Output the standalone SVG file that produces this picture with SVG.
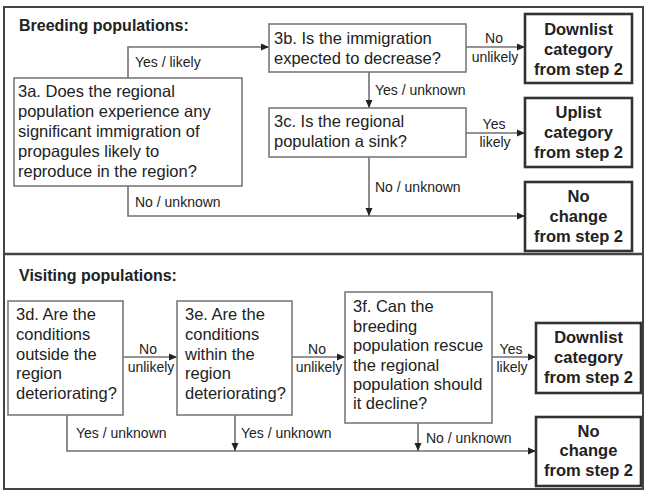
<svg xmlns="http://www.w3.org/2000/svg" width="651" height="492" viewBox="0 0 651 492">
<style>
text{font-family:"Liberation Sans",Arial,sans-serif;fill:#222}
.q{font-size:16.5px}
.r{font-size:16.5px;font-weight:bold;text-anchor:middle}
.h{font-size:16px;font-weight:bold}
.l{font-size:14px}
.lc{font-size:14px;text-anchor:middle}
.qb{fill:#fff;stroke:#7a7a7a;stroke-width:1.6}
.rb{fill:#fff;stroke:#333;stroke-width:2.6}
.c{fill:none;stroke:#707070;stroke-width:1.6}
.ca{fill:none;stroke:#707070;stroke-width:1.6;marker-end:url(#ah)}
</style>
<defs>
<marker id="ah" markerUnits="userSpaceOnUse" markerWidth="8" markerHeight="8" viewBox="0 0 8 8" refX="8" refY="4" orient="auto">
<path d="M0,0.5 L8,4 L0,7.5 Z" fill="#222"/>
</marker>
</defs>
<rect x="0" y="0" width="651" height="492" fill="#fff"/>
<g id="frame">
<rect x="4" y="7" width="639" height="482" fill="none" stroke="#444" stroke-width="2"/>
<line x1="4" y1="254" x2="643" y2="254" stroke="#444" stroke-width="2.4"/>
</g>
<text class="h" x="19" y="31">Breeding populations:</text>
<text class="h" x="19" y="281">Visiting populations:</text>
<g id="connectors">
<polyline class="ca" points="128,78 128,47 269,47"/>
<polyline class="ca" points="128,186 128,216 525,216"/>
<line class="ca" x1="466" y1="47" x2="525" y2="47"/>
<line class="ca" x1="369" y1="72" x2="369" y2="108"/>
<line class="ca" x1="466" y1="133" x2="525" y2="133"/>
<line class="ca" x1="369" y1="157" x2="369" y2="216"/>
<line class="ca" x1="123" y1="357" x2="177" y2="357"/>
<line class="ca" x1="292" y1="357" x2="345" y2="357"/>
<line class="ca" x1="492" y1="357" x2="536" y2="357"/>
<polyline class="ca" points="67,415 67,451 536,451"/>
<line class="ca" x1="235" y1="415" x2="235" y2="451"/>
<line class="ca" x1="418" y1="423" x2="418" y2="451"/>
<text class="l" x="135" y="67">Yes / likely</text>
<text class="l" x="135" y="207">No / unknown</text>
<text class="lc" x="494" y="43">No</text>
<text class="lc" x="495" y="62">unlikely</text>
<text class="l" x="375" y="95">Yes / unknown</text>
<text class="lc" x="494" y="129">Yes</text>
<text class="lc" x="495" y="147">likely</text>
<text class="l" x="375" y="192">No / unknown</text>
<text class="lc" x="148" y="354">No</text>
<text class="lc" x="151" y="372">unlikely</text>
<text class="lc" x="317" y="354">No</text>
<text class="lc" x="319" y="372">unlikely</text>
<text class="lc" x="511" y="354">Yes</text>
<text class="lc" x="512" y="372">likely</text>
<text class="l" x="76" y="438">Yes / unknown</text>
<text class="l" x="241" y="438">Yes / unknown</text>
<text class="l" x="426" y="443">No / unknown</text>
</g>
<g id="n3a">
<rect class="qb" x="14" y="78" width="228" height="108"/>
<text class="q" x="18" y="97">3a. Does the regional</text>
<text class="q" x="18" y="117">population experience any</text>
<text class="q" x="18" y="137">significant immigration of</text>
<text class="q" x="18" y="157">propagules likely to</text>
<text class="q" x="18" y="177">reproduce in the region?</text>
</g>
<g id="n3b">
<rect class="qb" x="269" y="24" width="197" height="48"/>
<text class="q" x="274" y="44">3b. Is the immigration</text>
<text class="q" x="274" y="64">expected to decrease?</text>
</g>
<g id="n3c">
<rect class="qb" x="269" y="108" width="197" height="49"/>
<text class="q" x="274" y="127">3c. Is the regional</text>
<text class="q" x="274" y="147">population a sink?</text>
</g>
<g id="r_down1">
<rect class="rb" x="525" y="14" width="107" height="69"/>
<text class="r" x="578.5" y="35">Downlist</text>
<text class="r" x="578.5" y="55">category</text>
<text class="r" x="578.5" y="75">from step 2</text>
</g>
<g id="r_up">
<rect class="rb" x="525" y="98" width="107" height="69"/>
<text class="r" x="578.5" y="118">Uplist</text>
<text class="r" x="578.5" y="138">category</text>
<text class="r" x="578.5" y="158">from step 2</text>
</g>
<g id="r_nc1">
<rect class="rb" x="525" y="182" width="107" height="69"/>
<text class="r" x="578.5" y="202">No</text>
<text class="r" x="578.5" y="222">change</text>
<text class="r" x="578.5" y="242">from step 2</text>
</g>
<g id="n3d">
<rect class="qb" x="8" y="301" width="115" height="114"/>
<text class="q" x="16" y="320">3d. Are the</text>
<text class="q" x="16" y="340">conditions</text>
<text class="q" x="16" y="360">outside the</text>
<text class="q" x="16" y="379">region</text>
<text class="q" x="16" y="399">deteriorating?</text>
</g>
<g id="n3e">
<rect class="qb" x="177" y="301" width="115" height="114"/>
<text class="q" x="185" y="320">3e. Are the</text>
<text class="q" x="185" y="340">conditions</text>
<text class="q" x="185" y="360">within the</text>
<text class="q" x="185" y="379">region</text>
<text class="q" x="185" y="399">deteriorating?</text>
</g>
<g id="n3f">
<rect class="qb" x="345" y="292" width="147" height="131"/>
<text class="q" x="353" y="312">3f. Can the</text>
<text class="q" x="353" y="332">breeding</text>
<text class="q" x="353" y="351">population rescue</text>
<text class="q" x="353" y="371">the regional</text>
<text class="q" x="353" y="390">population should</text>
<text class="q" x="353" y="409">it decline?</text>
</g>
<g id="r_down2">
<rect class="rb" x="536" y="323" width="105" height="70"/>
<text class="r" x="588.5" y="343">Downlist</text>
<text class="r" x="588.5" y="363">category</text>
<text class="r" x="588.5" y="383">from step 2</text>
</g>
<g id="r_nc2">
<rect class="rb" x="536" y="417" width="105" height="69"/>
<text class="r" x="588.5" y="437">No</text>
<text class="r" x="588.5" y="456">change</text>
<text class="r" x="588.5" y="476">from step 2</text>
</g>
</svg>
